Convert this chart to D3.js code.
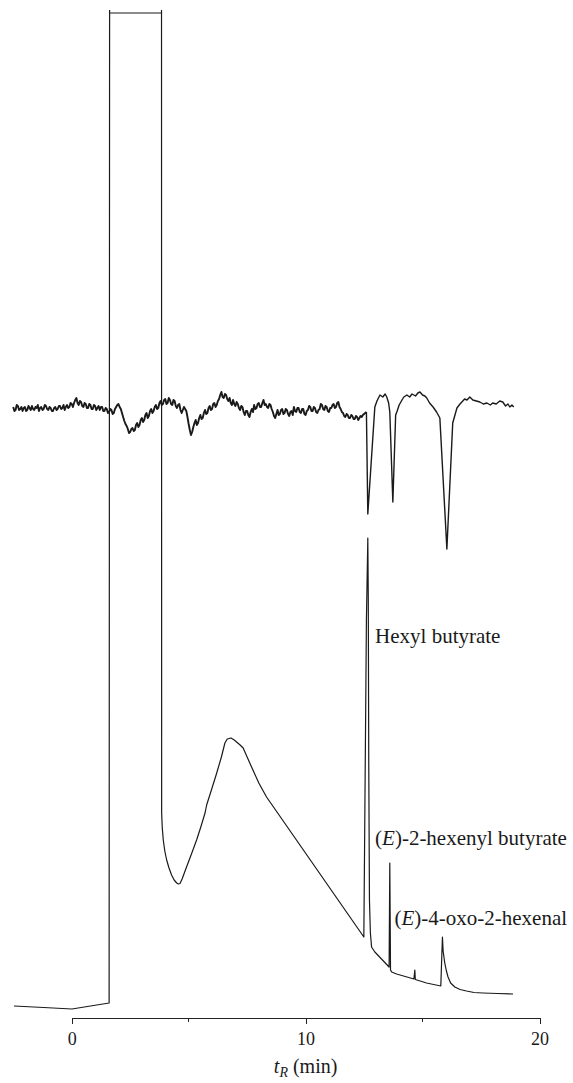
<!DOCTYPE html>
<html>
<meta charset="utf-8">

<head>
    <style>
        body { margin: 0; background: #fff; }
        svg { display: block; }
        .trace { fill: none; stroke: #1a1a1a; stroke-linejoin: round; }
        .axis path, .axis line { fill: none; stroke: #222; shape-rendering: crispEdges; }
        .axis text { font: 18px "Liberation Serif", serif; fill: #1a1a1a; }
        .lbl { font: 21px "Liberation Serif", serif; fill: #1a1a1a; }
    </style>
</head>

<body>
    <div id="chart"></div>
    <script src="https://d3js.org/d3.v7.min.js"></script>

    <script>
        // x ticks (min)
        const majorTicks = [0, 10, 20];
        const minorTicks = [5, 15];

        // upper trace (EAD), noisy part sampled every 0.05 min from -2.5 min
        const eadStart = -2.5, eadStep = 0.05;
        const eadNoisy = [
            60.6, 60.2, 60.3, 60.8, 60.7, 60.3, 60.4, 60.6, 60.2, 60.5, 60.6, 60.2, 60.3, 60.7, 60.5, 60.3, 60.7, 60.4, 60.3, 60.6,
            60.5, 60.8, 60.2, 60.5, 60.6, 60.3, 60.4, 60.8, 60.7, 60.4, 60.3, 60.6, 60.5, 60.2, 60.2, 60.5, 60.6, 60.3, 60.4, 60.7,
            60.7, 60.4, 60.5, 60.8, 60.3, 60.6, 60.8, 60.5, 60.6, 61.0, 60.9, 60.6, 61.0, 61.3, 61.5, 61.0, 60.8, 61.2, 61.1, 60.7,
            60.6, 61.0, 60.9, 60.5, 60.5, 60.9, 60.8, 60.4, 60.4, 60.8, 60.7, 60.3, 60.5, 60.7, 60.3, 60.6, 60.6, 60.2, 60.2, 60.5,
            60.4, 60.0, 60.1, 60.4, 60.3, 59.9, 60.0, 60.4, 60.6, 60.8, 60.9, 60.6, 60.4, 60.0, 59.6, 59.2, 58.9, 58.7, 58.4, 58.0,
            58.1, 58.4, 58.5, 58.2, 58.3, 58.8, 59.0, 58.6, 58.8, 59.3, 59.5, 59.1, 59.3, 59.8, 60.0, 59.5, 59.7, 60.2, 60.4, 60.0,
            60.2, 60.6, 60.8, 60.4, 60.5, 61.0, 61.2, 60.8, 60.9, 61.3, 61.4, 60.9, 61.0, 61.5, 61.3, 60.9, 60.8, 61.3, 61.2, 60.7,
            60.5, 60.8, 60.9, 60.3, 60.0, 60.3, 60.6, 60.4, 60.2, 59.6, 58.9, 58.3, 57.8, 58.1, 58.6, 59.0, 59.3, 58.8, 59.0, 59.5,
            59.8, 59.4, 59.5, 60.0, 60.3, 59.9, 60.0, 60.5, 60.7, 60.3, 60.4, 60.9, 61.0, 60.6, 60.8, 61.2, 61.4, 61.8, 62.1, 61.6,
            61.5, 61.9, 61.8, 61.4, 61.2, 61.5, 61.0, 60.8, 61.3, 60.9, 60.7, 61.1, 60.9, 60.5, 60.3, 60.7, 60.6, 60.1, 59.8, 60.2,
            60.2, 59.8, 59.6, 60.1, 60.4, 60.1, 60.8, 60.4, 60.5, 60.9, 61.0, 60.6, 60.6, 61.0, 61.3, 60.8, 60.9, 60.6, 60.5, 60.9,
            60.8, 60.4, 60.1, 59.7, 59.5, 59.9, 60.3, 59.8, 59.9, 60.3, 60.4, 59.9, 60.0, 60.4, 60.3, 59.9, 59.7, 60.1, 60.2, 59.8,
            60.6, 60.2, 60.1, 60.5, 60.5, 60.1, 60.0, 60.4, 60.4, 59.9, 59.8, 60.2, 60.3, 60.7, 60.6, 60.2, 60.2, 60.6, 60.5, 60.1,
            60.0, 60.3, 60.4, 60.9, 60.8, 60.4, 60.3, 60.7, 60.6, 60.2, 60.1, 60.5, 60.5, 60.8, 60.9, 60.5, 60.6, 61.0, 61.1, 60.6,
            60.4, 60.1, 60.0, 59.7, 59.6, 59.9, 59.8, 59.5, 59.5, 59.8, 59.7, 59.4, 59.4, 59.7, 59.6, 59.3, 59.5, 59.7, 59.6, 59.8,
            59.9, 60.0, 60.1
        ];
        // upper trace after 12.6 min, [time, signal]
        const eadTail = [
            [12.66, 49.9], [12.96, 60.6], [13.05, 61.2], [13.18, 61.8], [13.3, 61.6],
            [13.4, 61.9], [13.47, 61.6], [13.55, 61.0], [13.6, 60.1], [13.73, 51.1],
            [13.85, 59.8], [13.9, 60.1], [14.0, 60.8], [14.12, 61.3], [14.2, 61.6],
            [14.33, 61.8], [14.45, 61.6], [14.55, 61.9], [14.7, 61.7], [14.8, 62.0],
            [14.89, 62.1], [15.0, 61.8], [15.1, 61.7], [15.18, 61.5], [15.3, 61.0],
            [15.45, 60.6], [15.6, 60.1], [15.74, 59.5], [16.04, 46.4], [16.29, 59.0],
            [16.47, 60.5], [16.6, 60.9], [16.68, 61.1], [16.8, 61.4], [16.9, 61.3],
            [17.02, 61.6], [17.15, 61.3], [17.3, 61.2], [17.45, 61.1], [17.6, 60.9],
            [17.75, 61.0], [17.9, 60.8], [18.0, 61.0], [18.15, 60.9], [18.3, 61.2],
            [18.43, 61.1], [18.55, 60.7], [18.65, 60.9], [18.73, 60.6], [18.82, 60.8],
            [18.9, 60.6]
        ];

        // lower trace (FID), [time, signal]; off-scale peak clipped at 100
        const fid = [
            [-2.47, 0.7], [-1.2, 0.55], [0.01, 0.4], [1.60, 1.0], [1.62, 100], [3.84, 100],
            [3.846, 20.0], [3.87, 18.6], [3.915, 17.3], [3.98, 16.2], [4.06, 15.3],
            [4.16, 14.5], [4.27, 13.8], [4.38, 13.3], [4.49, 13.0], [4.56, 12.9],
            [4.63, 12.95], [4.72, 13.4], [4.91, 14.6], [5.12, 15.9], [5.34, 17.3],
            [5.52, 18.6], [5.70, 20.0], [5.77, 20.8], [6.0, 22.5], [6.20, 24.0],
            [6.40, 25.6], [6.55, 27.0], [6.65, 27.4], [6.81, 27.5], [6.95, 27.3],
            [7.05, 27.1], [7.20, 26.8], [7.33, 26.5], [7.50, 25.6], [7.69, 24.6],
            [8.00, 23.0], [8.33, 21.6], [12.49, 7.6], [12.6, 39.3], [12.66, 47.5],
            [12.68, 41.3], [12.70, 25.0], [12.73, 11.3], [12.77, 8.0], [12.82, 6.6],
            [12.96, 6.1], [13.57, 4.6], [13.60, 15.0], [13.63, 4.3], [13.68, 4.1],
            [13.89, 3.9], [14.63, 3.4], [14.67, 4.3], [14.69, 3.35], [15.17, 3.0],
            [15.78, 2.7], [15.85, 7.6], [15.88, 6.2], [15.95, 5.0], [16.02, 4.2],
            [16.09, 3.6], [16.2, 3.0], [16.38, 2.6], [16.6, 2.35], [16.88, 2.2],
            [17.2, 2.05], [17.58, 2.0], [18.2, 1.95], [18.87, 1.9]
        ];
        const clipTimes = [1.62, 3.84];
        const clipLevel = 100;

        // peak labels, anchored at [time, signal]
        const peakNames = [
            [null, "Hexyl butyrate"],
            ["E", "-2-hexenyl butyrate"],
            ["E", "-4-oxo-2-hexenal"]
        ];
        const peakLabelAt = [[12.97, 37.0], [12.97, 16.8], [13.8, 8.8]];

        const W = 573, H = 1083;

        var x = d3.scaleLinear().domain([0, 20]).range([71.7, 539.5]);
        var y = d3.scaleLinear().domain([0, 100]).range([1013, 13]);

        var svg = d3.select("#chart")
            .append("svg")
            .attr("width", W)
            .attr("height", H);

        var line = d3.line()
            .x(function (d) { return x(d[0]); })
            .y(function (d) { return y(d[1]); });

        // upper trace: noisy part, then the part with the three responses
        var eadPts = eadNoisy.map(function (v, i) { return [eadStart + i * eadStep, v]; });
        svg.append("path")
            .attr("class", "trace")
            .attr("d", line(eadPts))
            .attr("stroke-width", 1.9);
        svg.append("path")
            .attr("class", "trace")
            .attr("d", line([eadPts[eadPts.length - 1]].concat(eadTail)))
            .attr("stroke-width", 1.4);

        // lower trace
        svg.append("path")
            .attr("class", "trace")
            .attr("d", line(fid))
            .attr("stroke-width", 1.2);

        // small caps at the clipped top
        svg.selectAll(".cap")
            .data(clipTimes)
            .join("line")
            .attr("x1", function (d) { return x(d); })
            .attr("x2", function (d) { return x(d); })
            .attr("y1", y(clipLevel))
            .attr("y2", y(clipLevel) - 3)
            .attr("stroke", "#1a1a1a")
            .attr("stroke-width", 1.2);

        // x axis
        var axisY = 1018;
        var gx = svg.append("g")
            .attr("class", "axis")
            .attr("transform", "translate(0," + axisY + ")")
            .call(d3.axisBottom(x).tickValues(majorTicks).tickSize(6).tickSizeOuter(0).tickPadding(8));
        gx.selectAll(".minor")
            .data(minorTicks)
            .join("line")
            .attr("class", "minor")
            .attr("x1", function (d) { return x(d); })
            .attr("x2", function (d) { return x(d); })
            .attr("y1", 0)
            .attr("y2", 4);

        var title = svg.append("text")
            .attr("class", "lbl")
            .attr("x", x(10))
            .attr("y", 1073)
            .attr("text-anchor", "middle")
            .style("font-size", "20px");
        title.append("tspan").style("font-style", "italic").text("t");
        title.append("tspan").style("font-style", "italic").style("font-size", "14px")
            .attr("dy", 4).text("R");
        title.append("tspan").attr("dy", -4).text(" (min)");

        // peak labels
        peakNames.forEach(function (p, i) {
            var t = svg.append("text")
                .attr("class", "lbl")
                .attr("x", x(peakLabelAt[i][0]))
                .attr("y", y(peakLabelAt[i][1]));
            if (p[0]) {
                t.append("tspan").text("(");
                t.append("tspan").style("font-style", "italic").text(p[0]);
                t.append("tspan").text(")" + p[1]);
            } else {
                t.append("tspan").text(p[1]);
            }
        });
    </script>

</body>

</html>
